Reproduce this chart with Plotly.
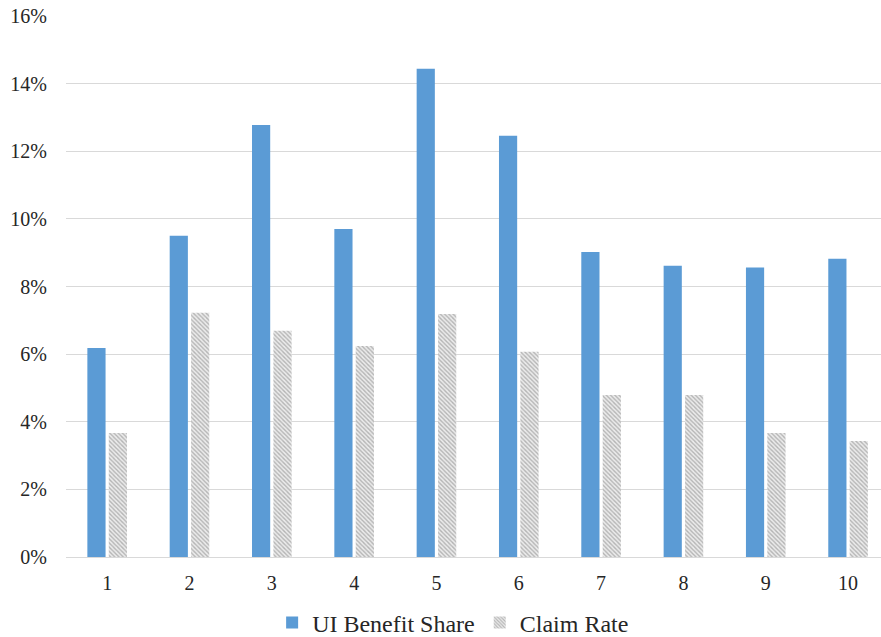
import plotly.graph_objects as go

categories = ["1", "2", "3", "4", "5", "6", "7", "8", "9", "10"]
ui_benefit_share = [0.0618, 0.0950, 0.1278, 0.0970, 0.1444, 0.1246, 0.0902, 0.0861, 0.0856, 0.0882]
claim_rate = [0.0367, 0.0722, 0.0669, 0.0624, 0.0719, 0.0607, 0.0479, 0.0479, 0.0367, 0.0343]
y_ticks = [0, 0.02, 0.04, 0.06, 0.08, 0.10, 0.12, 0.14, 0.16]
y_tick_labels = ["0%", "2%", "4%", "6%", "8%", "10%", "12%", "14%", "16%"]

xpos = list(range(1, len(categories) + 1))

fig = go.Figure()
fig.add_trace(go.Bar(
    x=xpos, y=ui_benefit_share, name="UI Benefit Share",
    marker=dict(color="#5b9bd5", line=dict(width=0)),
))
fig.add_trace(go.Bar(
    x=xpos, y=claim_rate, name="Claim Rate",
    marker=dict(color="#d8d8d8", line=dict(width=0),
                pattern=dict(shape="\\", fgcolor="#b4b4b4", bgcolor="#ececec",
                             size=3, solidity=0.45, fillmode="replace")),
))

fig.update_layout(
    width=881, height=637,
    margin=dict(l=66, r=0, t=16, b=80, autoexpand=False),
    paper_bgcolor="white", plot_bgcolor="white",
    barmode="group", bargap=0.48, bargroupgap=0.15,
    font=dict(family="Liberation Serif", size=20, color="#262626"),
    showlegend=True,
    legend=dict(orientation="h", x=0.475, xanchor="center", y=-0.122, yanchor="middle",
                font=dict(family="Liberation Serif", size=24, color="#262626"),
                itemwidth=30, tracegroupgap=0),
    xaxis=dict(
        range=[0.5, 10.4], tickmode="array", tickvals=xpos, ticktext=categories,
        showgrid=False, showline=True, linecolor="#d9d9d9", linewidth=1,
        ticks="", zeroline=False, ticklabelstandoff=8, automargin=False,
    ),
    yaxis=dict(
        range=[0, 0.16], tickmode="array", tickvals=y_ticks, ticktext=y_tick_labels,
        showgrid=True, gridcolor="#d9d9d9", gridwidth=1,
        showline=False, zeroline=False, ticks="", ticklabelstandoff=18, automargin=False,
    ),
)

fig.write_html("out.html", config={"displayModeBar": False},
               post_script="document.body.style.margin='0';")
